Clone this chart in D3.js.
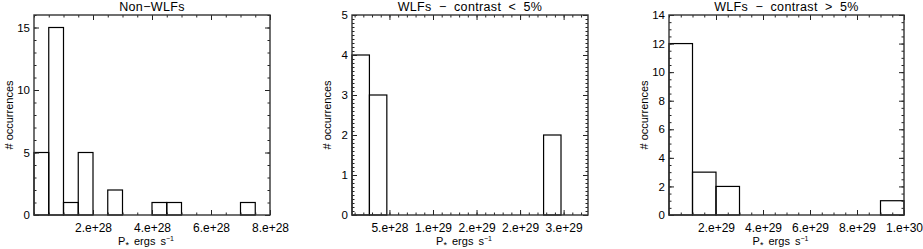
<!DOCTYPE html>
<html>
<head>
<meta charset="utf-8">
<script src="https://cdn.jsdelivr.net/npm/d3@7"></script>
<style>
  body { margin: 0; background: #fff; }
  svg { display: block; font-family: "Liberation Sans", Arial, sans-serif; }
</style>
</head>
<body>
<div id="chart"></div>
<script>
const width = 923;
const height = 249;

// --- données ---
const titles = ["Non\u2212WLFs", "WLFs \u2212 contrast < 5%", "WLFs \u2212 contrast > 5%"];

// panneau 1 : bins de 0.5e28 à partir de 0
const counts1 = [5, 15, 1, 5, 0, 2, 0, 0, 1, 1, 0, 0, 0, 0, 1, 0];
const binStart1 = 0, binSize1 = 0.5e28;
const xDomain1 = [0, 8e28];
const yDomain1 = [0, 16];
const xTicks1 = [2e28, 4e28, 6e28, 8e28];
const xTickLabels1 = ["2.e+28", "4.e+28", "6.e+28", "8.e+28"];
const yTicks1 = [0, 5, 10, 15];

// panneau 2 : bins de 2e28 à partir de 0.7e28
const counts2 = [4, 3, 0, 0, 0, 0, 0, 0, 0, 0, 0, 2, 0];
const binStart2 = 0.7e28, binSize2 = 2e28;
const xDomain2 = [0.7e28, 2.78e29];
const yDomain2 = [0, 5];
const xTicks2 = [5e28, 1e29, 1.5e29, 2e29, 2.5e29];
const xTickLabels2 = ["5.e+28", "1.e+29", "2.e+29", "2.e+29", "3.e+29"];
const yTicks2 = [0, 1, 2, 3, 4, 5];

// panneau 3 : bins de 1e29 à partir de 0
const counts3 = [12, 3, 2, 0, 0, 0, 0, 0, 0, 1];
const binStart3 = 0, binSize3 = 1e29;
const xDomain3 = [0, 1e30];
const yDomain3 = [0, 14];
const xTicks3 = [2e29, 4e29, 6e29, 8e29, 1e30];
const xTickLabels3 = ["2.e+29", "4.e+29", "6.e+29", "8.e+29", "1.e+30"];
const yTicks3 = [0, 2, 4, 6, 8, 10, 12, 14];

const panels = [
  { title: titles[0], counts: counts1, start: binStart1, size: binSize1, xd: xDomain1, yd: yDomain1,
    xt: xTicks1, xl: xTickLabels1, yt: yTicks1, xMinor: 0.5e28, yMinor: 1, left: 34, right: 270 },
  { title: titles[1], counts: counts2, start: binStart2, size: binSize2, xd: xDomain2, yd: yDomain2,
    xt: xTicks2, xl: xTickLabels2, yt: yTicks2, xMinor: 1e28, yMinor: 0.1, left: 352, right: 588 },
  { title: titles[2], counts: counts3, start: binStart3, size: binSize3, xd: xDomain3, yd: yDomain3,
    xt: xTicks3, xl: xTickLabels3, yt: yTicks3, xMinor: 0.5e29, yMinor: 0.5, left: 669, right: 904 }
];

const plotTop = 15, plotBottom = 215;

const svg = d3.select("#chart")
  .append("svg")
  .attr("width", width)
  .attr("height", height);

// petites graduations entre min et max
function minorTicks(domain, step) {
  const out = [];
  const n0 = Math.ceil(domain[0] / step - 1e-9);
  const n1 = Math.floor(domain[1] / step + 1e-9);
  for (let i = n0; i <= n1; i++) out.push(i * step);
  return out;
}

panels.forEach(p => {
  const x = d3.scaleLinear().domain(p.xd).range([p.left, p.right]);
  const y = d3.scaleLinear().domain(p.yd).range([plotBottom, plotTop]);
  const g = svg.append("g");

  // barres de l'histogramme
  const bins = p.counts.map((c, i) => ({ x0: p.start + i * p.size, x1: p.start + (i + 1) * p.size, c }))
    .filter(d => d.c > 0);
  g.selectAll("rect.bar")
    .data(bins)
    .join("rect")
    .attr("class", "bar")
    .attr("x", d => x(d.x0))
    .attr("y", d => y(d.c))
    .attr("width", d => x(Math.min(d.x1, p.xd[1])) - x(d.x0))
    .attr("height", d => y(0) - y(d.c))
    .attr("fill", "none")
    .attr("stroke", "#000")
    .attr("stroke-width", 1.2);

  // graduations (vers l'intérieur, sur les 4 côtés)
  const xMin = minorTicks(p.xd, p.xMinor);
  const yMin = minorTicks(p.yd, p.yMinor);
  const axes = [
    [d3.axisBottom(x).tickValues(p.xt).tickSize(-5).tickFormat((d, i) => p.xl[i]), `translate(0,${plotBottom})`, "xlab"],
    [d3.axisBottom(x).tickValues(xMin).tickSize(-2.5).tickFormat(""), `translate(0,${plotBottom})`, ""],
    [d3.axisTop(x).tickValues(p.xt).tickSize(-5).tickFormat(""), `translate(0,${plotTop})`, ""],
    [d3.axisTop(x).tickValues(xMin).tickSize(-2.5).tickFormat(""), `translate(0,${plotTop})`, ""],
    [d3.axisLeft(y).tickValues(p.yt).tickSize(-5).tickFormat(d3.format("d")), `translate(${p.left},0)`, "ylab"],
    [d3.axisLeft(y).tickValues(yMin).tickSize(-2.5).tickFormat(""), `translate(${p.left},0)`, ""],
    [d3.axisRight(y).tickValues(p.yt).tickSize(-5).tickFormat(""), `translate(${p.right},0)`, ""],
    [d3.axisRight(y).tickValues(yMin).tickSize(-2.5).tickFormat(""), `translate(${p.right},0)`, ""]
  ];
  axes.forEach(([ax, tr, cls]) => {
    const a = g.append("g").attr("transform", tr).attr("class", cls).call(ax.tickPadding(3));
    a.select(".domain").remove();
    a.selectAll("line").attr("stroke", "#222");
    a.selectAll("text").attr("font-size", 12).attr("fill", "#000")
      .attr("font-family", "Liberation Sans, Arial, sans-serif");
  });
  g.selectAll(".xlab text").attr("y", 8).attr("dy", "0.71em");
  g.selectAll(".ylab text").attr("x", -4).attr("font-size", 11.5);

  // cadre
  g.append("rect")
    .attr("x", p.left).attr("y", plotTop)
    .attr("width", p.right - p.left).attr("height", plotBottom - plotTop)
    .attr("fill", "none")
    .attr("stroke", "#333")
    .attr("stroke-width", 1.4);

  // titre
  g.append("text")
    .attr("x", (p.left + p.right) / 2)
    .attr("y", 11)
    .attr("text-anchor", "middle")
    .attr("font-size", 12.5)
    .attr("letter-spacing", 0.35)
    .attr("word-spacing", 3.5)
    .text(p.title);

  // titre axe x : P* ergs s^-1
  const xl = g.append("text")
    .attr("x", (p.left + p.right) / 2 - 6)
    .attr("y", 245)
    .attr("text-anchor", "middle")
    .attr("font-size", 11);
  xl.append("tspan").text("P");
  xl.append("tspan").attr("dy", 3).attr("font-size", 9).text("*");
  xl.append("tspan").attr("dy", -3).attr("word-spacing", 2).text(" ergs s");
  xl.append("tspan").attr("dy", -4).attr("font-size", 7).text("\u22121");

  // titre axe y
  g.append("text")
    .attr("transform", `translate(${p.left - 21},${(plotTop + plotBottom) / 2}) rotate(-90)`)
    .attr("text-anchor", "middle")
    .attr("font-size", 11)
    .text("# occurrences");
});
</script>
</body>
</html>
